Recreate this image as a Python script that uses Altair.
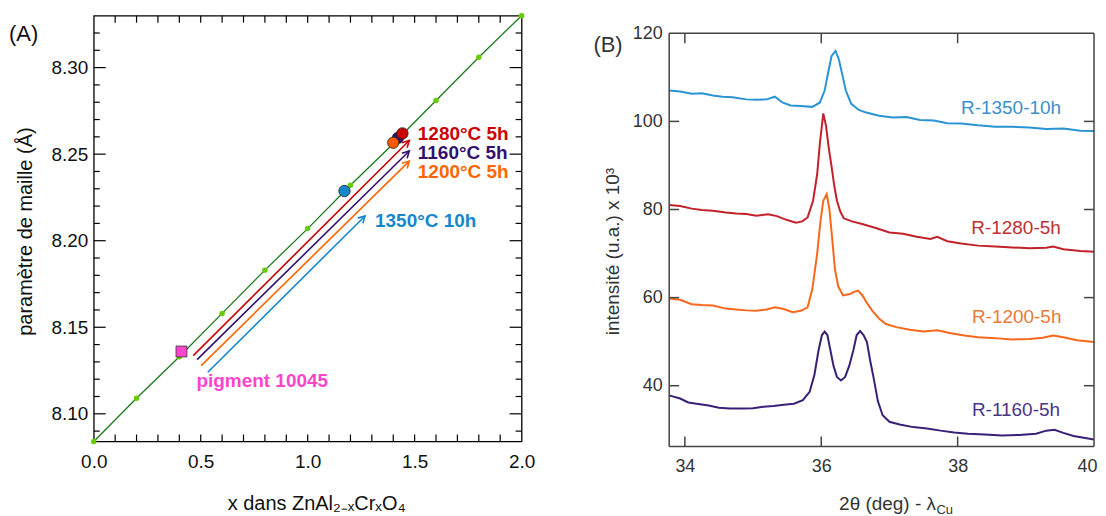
import altair as alt
import pandas as pd

FONT = "Liberation Sans"

# ---------------- Panel A data ----------------
green_x = [0.0, 0.2, 0.4, 0.6, 0.8, 1.0, 1.2, 1.4, 1.6, 1.8, 2.0]
green_y = [8.084, 8.109, 8.133, 8.158, 8.183, 8.207, 8.232, 8.256, 8.281, 8.306, 8.330]

sample_names = ["1350°C 10h", "1160°C 5h", "1280°C 5h", "1200°C 5h"]
sample_x = [1.172, 1.422, 1.443, 1.400]
sample_y = [8.2287, 8.2594, 8.2620, 8.2566]
sample_colors = ["#1787cc", "#33106e", "#cc0000", "#ff5a00"]

pigment_x = [0.41]
pigment_y = [8.136]

arrow_names = ["1280°C 5h", "1160°C 5h", "1200°C 5h", "1350°C 10h"]
arrow_x0 = [0.465, 0.483, 0.502, 0.533]
arrow_y0 = [8.1336, 8.1313, 8.1278, 8.1240]
arrow_x1 = [1.475, 1.475, 1.475, 1.268]
arrow_y1 = [8.2579, 8.2518, 8.2460, 8.2143]
arrow_colors = ["#cc0000", "#33106e", "#ff6600", "#1787cc"]

label_text = ["1280°C 5h", "1160°C 5h", "1200°C 5h", "1350°C 10h", "pigment 10045"]
label_x = [1.515, 1.515, 1.515, 1.315, 0.480]
label_y = [8.2614, 8.2504, 8.2395, 8.2112, 8.1190]
label_colors = ["#cc0000", "#33106e", "#ff6600", "#1787cc", "#ff44cc"]

A_x_labels = [0.0, 0.5, 1.0, 1.5, 2.0]
A_x_ticks = [0.1, 0.2, 0.3, 0.4, 0.5, 0.6, 0.7, 0.8, 0.9, 1.0,
             1.1, 1.2, 1.3, 1.4, 1.5, 1.6, 1.7, 1.8, 1.9]
A_y_labels = [8.10, 8.15, 8.20, 8.25, 8.30]
A_y_minor = [8.09, 8.11, 8.12, 8.13, 8.14, 8.16, 8.17, 8.18, 8.19, 8.21,
             8.22, 8.23, 8.24, 8.26, 8.27, 8.28, 8.29, 8.31, 8.32]

# ---------------- Panel B data ----------------
b_names = ["R-1350-10h", "R-1280-5h", "R-1200-5h", "R-1160-5h"]
b_colors = ["#2a93d5", "#c1222a", "#f8681c", "#3b1f77"]
b_label_colors = ["#3d8fcb", "#c03030", "#e8793a", "#4a3487"]

blue_x = [33.77, 33.93, 34.10, 34.25, 34.41, 34.55, 34.70, 34.90, 35.05, 35.20, 35.32, 35.43,
          35.55, 35.70, 35.87, 35.98, 36.05, 36.10, 36.15, 36.21, 36.26, 36.31, 36.36, 36.44,
          36.55, 36.66, 36.85, 37.05, 37.25, 37.45, 37.65, 37.85, 38.05, 38.30, 38.55, 38.80,
          39.05, 39.30, 39.55, 39.80, 40.00]
blue_y = [107.0, 106.8, 106.3, 106.4, 105.9, 105.6, 105.5, 105.0, 104.9, 105.0, 105.6, 104.3,
          103.6, 103.5, 103.3, 104.3, 107.0, 111.0, 114.8, 116.0, 114.0, 110.5, 107.0, 104.0,
          102.6, 102.0, 101.3, 100.9, 101.0, 100.3, 100.2, 99.6, 99.5, 99.1, 98.8, 98.8,
          98.6, 98.3, 98.4, 97.9, 97.8]

red_x = [33.77, 33.93, 34.10, 34.25, 34.41, 34.60, 34.75, 34.90, 35.05, 35.22, 35.35, 35.50,
         35.63, 35.72, 35.80, 35.88, 35.94, 35.98, 36.03, 36.07, 36.11, 36.15, 36.19, 36.23,
         36.28, 36.33, 36.45, 36.60, 36.80, 37.00, 37.20, 37.40, 37.60, 37.70, 37.85, 38.05,
         38.30, 38.55, 38.80, 39.05, 39.30, 39.40, 39.55, 39.80, 40.00]
red_y = [81.0, 80.8, 80.2, 79.9, 79.7, 79.3, 79.1, 79.0, 78.6, 78.9, 78.5, 77.6,
         77.0, 77.3, 78.2, 82.0, 88.0, 95.0, 101.8, 99.0, 94.0, 89.9, 85.5, 82.0,
         79.5, 78.0, 77.3, 76.7, 75.8, 74.8, 74.5, 73.8, 73.3, 73.8, 72.8, 72.3,
         71.8, 71.6, 71.4, 71.2, 71.3, 71.6, 71.0, 70.6, 70.4]

orange_x = [33.77, 33.93, 34.10, 34.25, 34.41, 34.60, 34.75, 34.90, 35.05, 35.20, 35.32, 35.45,
            35.58, 35.70, 35.80, 35.87, 35.94, 35.99, 36.03, 36.08, 36.12, 36.16, 36.20, 36.25,
            36.32, 36.42, 36.48, 36.54, 36.60, 36.66, 36.75, 36.85, 36.95, 37.10, 37.30, 37.50,
            37.70, 37.90, 38.10, 38.30, 38.55, 38.80, 39.05, 39.25, 39.40, 39.55, 39.75, 40.00]
orange_y = [59.8, 59.5, 58.5, 58.3, 58.2, 57.5, 57.3, 57.1, 57.0, 57.3, 57.8, 57.4,
            56.7, 57.0, 57.8, 62.0, 70.0, 77.5, 82.0, 83.5, 80.0, 73.5, 66.5, 62.5,
            60.5, 60.8, 61.3, 61.6, 60.6, 59.0, 57.0, 55.2, 54.0, 53.3, 52.7, 52.3,
            52.6, 51.9, 51.4, 51.0, 50.8, 50.5, 50.6, 50.9, 51.4, 51.0, 50.3, 49.9]

purple_x = [33.77, 33.93, 34.05, 34.17, 34.35, 34.50, 34.66, 34.85, 35.00, 35.15, 35.30, 35.45,
            35.60, 35.73, 35.83, 35.90, 35.96, 36.01, 36.05, 36.09, 36.13, 36.18, 36.23, 36.29,
            36.35, 36.41, 36.47, 36.52, 36.57, 36.62, 36.67, 36.72, 36.77, 36.83, 36.90, 37.00,
            37.15, 37.35, 37.55, 37.75, 37.95, 38.15, 38.40, 38.65, 38.90, 39.15, 39.30, 39.42,
            39.55, 39.70, 39.85, 40.00]
purple_y = [37.8, 37.1, 36.2, 35.9, 35.5, 35.0, 34.8, 34.8, 34.9, 35.2, 35.4, 35.7,
            35.9, 36.7, 38.6, 42.5, 48.0, 51.5, 52.3, 51.5, 48.4, 44.5, 42.0, 41.2,
            42.0, 44.5, 48.0, 51.5, 52.4, 51.5, 49.9, 45.5, 41.6, 36.5, 33.3, 31.8,
            31.2, 30.6, 30.3, 29.8, 29.4, 29.1, 28.9, 28.7, 28.8, 29.1, 29.8, 30.0,
            29.3, 28.6, 28.2, 27.8]

b_label_x = [38.05, 38.20, 38.21, 38.21]
b_label_y = [103.0, 75.9, 55.6, 34.4]

B_x_labels = [34, 36, 38, 40]
B_x_ticks = [34, 36, 38]
B_y_labels = [40, 60, 80, 100, 120]
B_y_ticks = [40, 60, 80, 100]
B_y_top = 120

# ---------------- Panel A ----------------
WA, HA = 429, 427
xA = alt.Scale(domain=[0, 2], nice=False, zero=False)
yA = alt.Scale(domain=[8.084, 8.330], nice=False, zero=False)

axA_x = alt.Axis(values=A_x_labels, format=".1f", ticks=False, domain=False, grid=False,
                 labelFontSize=19, labelPadding=11, labelColor="#111", labelFlush=False,
                 title="x dans ZnAl₂₋ₓCrₓO₄", titleFontSize=20, titleFontWeight="normal",
                 titleColor="#111", titleX=223, titleY=62, titleAlign="center",
                 titleBaseline="middle")
axA_y = alt.Axis(values=A_y_labels, format=".2f", ticks=False, domain=False, grid=False,
                 labelFontSize=19, labelPadding=6, labelColor="#111", labelFlush=False,
                 title="paramètre de maille (Å)", titleFontSize=20, titleFontWeight="normal",
                 titleColor="#111", titleX=-68, titleY=216, titleAngle=270,
                 titleAlign="center", titleBaseline="middle")

df_green = pd.DataFrame({"x": green_x, "y": green_y})
df_samples = pd.DataFrame({"name": sample_names, "x": sample_x, "y": sample_y, "c": sample_colors})
df_pig = pd.DataFrame({"x": pigment_x, "y": pigment_y})
df_arrows = pd.DataFrame({"name": arrow_names, "x": arrow_x0, "y": arrow_y0,
                          "x2": arrow_x1, "y2": arrow_y1, "c": arrow_colors})
df_labels = pd.DataFrame({"t": label_text, "x": label_x, "y": label_y, "c": label_colors})
df_axt = pd.DataFrame({"v": A_x_ticks})
df_aymin = pd.DataFrame({"v": A_y_minor})
df_aymaj = pd.DataFrame({"v": A_y_labels})

green_line = alt.Chart(df_green).mark_line(color="#1a7a1a", strokeWidth=1.3).encode(
    x=alt.X("x:Q", scale=xA, axis=axA_x),
    y=alt.Y("y:Q", scale=yA, axis=axA_y),
)
green_pts = alt.Chart(df_green).mark_circle(color="#66cc00", size=30, opacity=1).encode(
    x=alt.X("x:Q", scale=xA), y=alt.Y("y:Q", scale=yA))

arrow_lines = alt.Chart(df_arrows).mark_rule(strokeWidth=1.6).encode(
    x=alt.X("x:Q", scale=xA), y=alt.Y("y:Q", scale=yA),
    x2="x2:Q", y2="y2:Q", color=alt.Color("c:N", scale=None))
arrow_heads = alt.Chart(df_arrows).mark_point(
    shape="M-0.6,1.1L0,0L0.6,1.1", filled=False, strokeWidth=1.6, size=150, angle=45,
    opacity=1).encode(
    x=alt.X("x2:Q", scale=xA), y=alt.Y("y2:Q", scale=yA),
    color=alt.Color("c:N", scale=None))

pig = alt.Chart(df_pig).mark_square(size=120, color="#ff44cc", stroke="#333333",
                                    strokeWidth=0.8, opacity=1).encode(
    x=alt.X("x:Q", scale=xA), y=alt.Y("y:Q", scale=yA))
circles = alt.Chart(df_samples).mark_point(shape="circle", filled=True, size=130,
                                           stroke="#222222", strokeWidth=0.8, opacity=1).encode(
    x=alt.X("x:Q", scale=xA), y=alt.Y("y:Q", scale=yA),
    fill=alt.Fill("c:N", scale=None))

labelsA = alt.Chart(df_labels).mark_text(align="left", baseline="middle", fontSize=19,
                                         fontWeight="bold", font=FONT).encode(
    x=alt.X("x:Q", scale=xA), y=alt.Y("y:Q", scale=yA),
    text="t:N", color=alt.Color("c:N", scale=None))

tA_bot = alt.Chart(df_axt).mark_rule(color="#000", strokeWidth=1.2).encode(
    x=alt.X("v:Q", scale=xA), y=alt.value(HA), y2=alt.value(HA - 7))
tA_top = alt.Chart(df_axt).mark_rule(color="#000", strokeWidth=1.2).encode(
    x=alt.X("v:Q", scale=xA), y=alt.value(0), y2=alt.value(7))
tA_lmin = alt.Chart(df_aymin).mark_rule(color="#000", strokeWidth=1.2).encode(
    y=alt.Y("v:Q", scale=yA), x=alt.value(0), x2=alt.value(6))
tA_rmin = alt.Chart(df_aymin).mark_rule(color="#000", strokeWidth=1.2).encode(
    y=alt.Y("v:Q", scale=yA), x=alt.value(WA), x2=alt.value(WA - 6))
tA_lmaj = alt.Chart(df_aymaj).mark_rule(color="#000", strokeWidth=1.2).encode(
    y=alt.Y("v:Q", scale=yA), x=alt.value(0), x2=alt.value(12))
tA_rmaj = alt.Chart(df_aymaj).mark_rule(color="#000", strokeWidth=1.2).encode(
    y=alt.Y("v:Q", scale=yA), x=alt.value(WA), x2=alt.value(WA - 12))

tagA = alt.Chart(pd.DataFrame({"t": ["(A)"]})).mark_text(
    align="left", baseline="middle", fontSize=22, color="#111", font=FONT).encode(
    text="t:N", x=alt.value(-85), y=alt.value(18))
boundA = alt.Chart(pd.DataFrame({"t": [0]})).mark_rule(opacity=0).encode(
    x=alt.value(0), x2=alt.value(449), y=alt.value(-6))

panelA = alt.layer(
    green_line, green_pts, tA_bot, tA_top, tA_lmin, tA_rmin, tA_lmaj, tA_rmaj,
    arrow_lines, arrow_heads, pig, circles, labelsA, tagA, boundA
).properties(width=WA, height=HA, view=alt.ViewBackground(stroke="#000", strokeWidth=1.3))

# ---------------- Panel B ----------------
# the group spans from the same top as panel A; the frame starts at y = 120
WB, HB = 426, 432
xB = alt.Scale(domain=[33.77, 40], nice=False, zero=False)
yB = alt.Scale(domain=[26.2, 124.0], nice=False, zero=False)

rows = []
for nm, xs, ys in zip(b_names, [blue_x, red_x, orange_x, purple_x],
                      [blue_y, red_y, orange_y, purple_y]):
    for xv, yv in zip(xs, ys):
        rows.append({"s": nm, "x": xv, "y": yv})
df_b = pd.DataFrame(rows)
df_bl = pd.DataFrame({"t": b_names, "x": b_label_x, "y": b_label_y, "c": b_label_colors})

axB_x = alt.Axis(values=B_x_labels, format="d", ticks=False, domain=False, grid=False,
                 labelFontSize=18, labelPadding=11, labelColor="#333", labelFlush=False,
                 labelOffset={"condition": {"test": "datum.value >= 40", "value": -7},
                              "value": 0},
                 title="2θ (deg) - λ", titleFontSize=19, titleFontWeight="normal",
                 titleColor="#333", titleX=267, titleY=57, titleAlign="right",
                 titleBaseline="middle")
axB_y = alt.Axis(values=B_y_labels, format="d", ticks=False, domain=False, grid=False,
                 labelFontSize=18, labelPadding=7, labelColor="#333", labelFlush=False,
                 title="intensité (u.a.) x 10³", titleFontSize=19, titleFontWeight="normal",
                 titleColor="#333", titleX=-57, titleY=236, titleAngle=270,
                 titleAlign="center", titleBaseline="middle")

linesB = alt.Chart(df_b).mark_line(strokeWidth=2).encode(
    x=alt.X("x:Q", scale=xB, axis=axB_x),
    y=alt.Y("y:Q", scale=yB, axis=axB_y),
    color=alt.Color("s:N", scale=alt.Scale(domain=b_names, range=b_colors), legend=None),
    detail="s:N",
)
labelsB = alt.Chart(df_bl).mark_text(align="left", baseline="middle", fontSize=19,
                                     font=FONT).encode(
    x=alt.X("x:Q", scale=xB), y=alt.Y("y:Q", scale=yB),
    text="t:N", color=alt.Color("c:N", scale=None))

FR = "#444"
one = pd.DataFrame({"t": [0]})
frame_top = alt.Chart(one).mark_rule(color=FR, strokeWidth=1.5).encode(
    x=alt.value(0), x2=alt.value(WB), y=alt.Y(datum=B_y_top, scale=yB))
frame_bot = alt.Chart(one).mark_rule(color=FR, strokeWidth=1.5).encode(
    x=alt.value(0), x2=alt.value(WB), y=alt.value(HB))
frame_left = alt.Chart(one).mark_rule(color=FR, strokeWidth=1.5).encode(
    x=alt.value(0), y=alt.Y(datum=B_y_top, scale=yB), y2=alt.value(HB))
frame_right = alt.Chart(one).mark_rule(color=FR, strokeWidth=1.5).encode(
    x=alt.value(WB), y=alt.Y(datum=B_y_top, scale=yB), y2=alt.value(HB))

df_bxt = pd.DataFrame({"v": B_x_ticks, "top": [B_y_top] * len(B_x_ticks),
                       "top2": [B_y_top - 2.26] * len(B_x_ticks)})
df_byt = pd.DataFrame({"v": B_y_ticks})
tB_bot = alt.Chart(df_bxt).mark_rule(color=FR, strokeWidth=1.5).encode(
    x=alt.X("v:Q", scale=xB), y=alt.value(HB), y2=alt.value(HB - 10))
tB_top = alt.Chart(df_bxt).mark_rule(color=FR, strokeWidth=1.5).encode(
    x=alt.X("v:Q", scale=xB), y=alt.Y("top:Q", scale=yB), y2="top2:Q")
tB_l = alt.Chart(df_byt).mark_rule(color=FR, strokeWidth=1.5).encode(
    y=alt.Y("v:Q", scale=yB), x=alt.value(0), x2=alt.value(10))
tB_r = alt.Chart(df_byt).mark_rule(color=FR, strokeWidth=1.5).encode(
    y=alt.Y("v:Q", scale=yB), x=alt.value(WB), x2=alt.value(WB - 10))

tagB = alt.Chart(pd.DataFrame({"t": ["(B)"]})).mark_text(
    align="left", baseline="middle", fontSize=22, color="#333", font=FONT).encode(
    text="t:N", x=alt.value(-76), y=alt.value(29))
subCu = alt.Chart(pd.DataFrame({"t": ["Cu"]})).mark_text(
    align="left", baseline="middle", fontSize=13, color="#333", font=FONT).encode(
    text="t:N", x=alt.value(268), y=alt.value(HB + 64))

panelB = alt.layer(
    linesB, frame_top, frame_bot, frame_left, frame_right,
    tB_bot, tB_top, tB_l, tB_r, labelsB, tagB, subCu
).properties(width=WB, height=HB)

chart = alt.hconcat(panelA, panelB, spacing=51).properties(
    padding=0
).configure(font=FONT).configure_view(stroke=None).configure_axis(
    labelFont=FONT, titleFont=FONT)

chart.save("out.html", embed_options={"renderer": "svg", "actions": False})
